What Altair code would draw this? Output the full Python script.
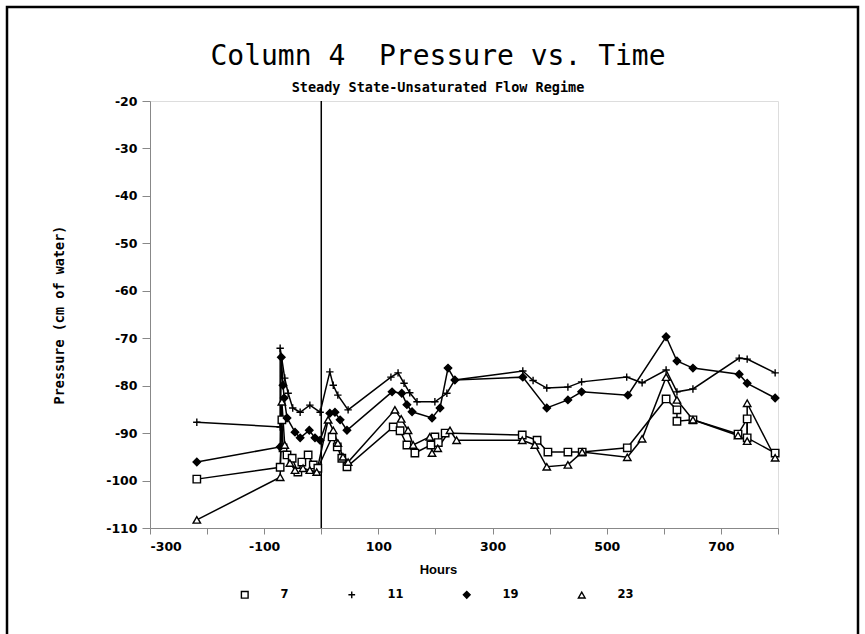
import altair as alt
import pandas as pd

# ---- data ----
x7 = [-218, -72, -69, -67, -60, -51, -41, -34, -23, -14, -6, 19, 28, 36, 45,
      126, 138, 150, 164, 192, 199, 205, 217, 352, 378, 397, 432, 457, 536,
      604, 623, 623, 651, 730, 746, 746, 795]
y7 = [-99.7, -97.2, -87.2, -93.1, -94.6, -95.3, -98.2, -96.1, -94.6, -96.7, -97.4, -90.8, -92.9, -95.3, -97.1,
      -88.7, -89.5, -92.5, -94.2, -92.5, -90.8, -92.0, -90.0, -90.4, -91.5, -94.0, -94.0, -94.0, -93.1,
      -82.8, -85.1, -87.5, -87.2, -90.2, -87.0, -91.0, -94.2]

x11 = [-218, -72, -72, -64, -58, -50, -37, -20, -2, 15, 21, 29, 47,
       122, 134.5, 145, 155, 167.7, 199, 220, 234, 353, 371, 395, 432, 456,
       535, 562, 604, 623, 651, 732, 746, 795]
y11 = [-87.7, -88.7, -72.1, -78.4, -81.6, -84.7, -85.6, -84.1, -85.6, -77.1, -79.9, -82.0, -85.1,
       -78.2, -77.3, -79.5, -81.5, -83.4, -83.4, -81.6, -78.8, -76.9, -78.9, -80.5, -80.3, -79.2,
       -78.2, -79.4, -76.7, -81.3, -80.7, -74.2, -74.4, -77.3]

x19 = [-218, -72, -70, -67, -65, -60, -46, -37, -21, -11, -2, 15, 24, 33, 45,
       124, 141, 150, 159, 194, 208, 222, 234, 353, 395, 432, 456, 537,
       604, 623, 651, 732, 746, 795]
y19 = [-96.1, -92.9, -74.0, -79.9, -82.6, -86.8, -89.8, -91.0, -89.4, -91.0, -91.5, -85.8, -85.6, -87.2, -89.4,
       -81.3, -81.6, -84.0, -85.5, -86.8, -84.7, -76.3, -78.8, -78.2, -84.7, -83.0, -81.3, -82.0,
       -69.7, -74.8, -76.3, -77.6, -79.5, -82.6]

x23 = [-218, -72, -69, -64, -55, -46, -32, -20, -8, 12, 21, 29, 38, 47,
       129, 140, 152, 161, 190, 194, 204, 225.5, 237, 352, 374, 395, 432, 457,
       536, 562, 604, 623, 651, 730, 746, 746, 795]
y23 = [-108.3, -99.3, -83.4, -92.5, -96.3, -97.8, -97.4, -97.8, -98.2, -87.2, -89.4, -92.1, -95.0, -96.1,
       -85.1, -87.0, -89.4, -92.5, -90.8, -94.2, -93.2, -89.4, -91.5, -91.5, -92.5, -97.1, -96.7, -94.0,
       -95.1, -91.2, -78.2, -83.0, -87.2, -90.5, -91.7, -83.7, -95.2]

series_names = ["7", "11", "19", "23"]
series_x = [x7, x11, x19, x23]
series_y = [y7, y11, y19, y23]

x_ticks = list(range(-300, 801, 100))
y_ticks = list(range(-110, -19, 10))

rows = []
for name, xs, ys in zip(series_names, series_x, series_y):
    for i, (xv, yv) in enumerate(zip(xs, ys)):
        rows.append({"Hours": xv, "Pressure": yv, "Series": name, "idx": i})
df = pd.DataFrame(rows)

plus_path = "M-1,0L1,0M0,-1L0,1"
shape_range = ["square", plus_path, "diamond", "triangle-up"]
fill_range = ["white", "transparent", "black", "white"]
stroke_range = ["black", "black", "black", "black"]

FONT = "DejaVu Sans"

xscale = alt.Scale(domain=[-300, 800], nice=False, zero=False)
yscale = alt.Scale(domain=[-110, -20], nice=False, zero=False)

label_style = dict(labelFont=FONT, labelFontWeight="bold", labelFontSize=12.5, labelColor="black")

xaxis = alt.Axis(values=x_ticks,
                 labelExpr="datum.value % 200 != 0 ? '' + datum.value : ''",
                 title="Hours", titleX=288, titlePadding=11, titleFontSize=13,
                 grid=False, tickSize=6, labelPadding=6, **label_style)
yaxis = alt.Axis(values=y_ticks, labelExpr="'' + datum.value",
                 title="Pressure (cm of water)", titlePadding=39,
                 titleFont="DejaVu Sans Mono", titleFontSize=13.5,
                 grid=False, tickSize=8, labelPadding=5, **label_style)

base = alt.Chart(df)

lines = base.mark_line(color="black", strokeWidth=1.5).encode(
    x=alt.X("Hours:Q", scale=xscale, axis=xaxis),
    y=alt.Y("Pressure:Q", scale=yscale, axis=yaxis),
    detail="Series:N",
    order="idx:Q",
)

points = base.mark_point(filled=False, strokeWidth=1.4, size=55, opacity=1).encode(
    x=alt.X("Hours:Q", scale=xscale),
    y=alt.Y("Pressure:Q", scale=yscale),
    shape=alt.Shape("Series:N", scale=alt.Scale(domain=series_names, range=shape_range),
                    legend=alt.Legend(title=None, orient="none", legendX=89, legendY=488,
                                      direction="horizontal", labelOffset=30, columnPadding=56,
                                      symbolSize=45, symbolStrokeWidth=1.4,
                                      labelFont=FONT, labelFontWeight="bold", labelFontSize=11.5,
                                      labelColor="black")),
    fill=alt.Fill("Series:N", scale=alt.Scale(domain=series_names, range=fill_range), legend=None),
    stroke=alt.Stroke("Series:N", scale=alt.Scale(domain=series_names, range=stroke_range), legend=None),
)

zero_df = pd.DataFrame({"Hours": [0]})
zero_rule = alt.Chart(zero_df).mark_rule(color="black", strokeWidth=1.5).encode(
    x=alt.X("Hours:Q", scale=xscale)
)

frame_df = pd.DataFrame({"k": [1]})
frame = alt.Chart(frame_df).mark_rect(filled=False, stroke="black", strokeWidth=2.5).encode(
    x=alt.value(-143), x2=alt.value(708), y=alt.value(-94), y2=alt.value(580)
)

chart = alt.layer(frame, zero_rule, lines, points).properties(
    width=628, height=427,
    padding={"left": 150, "top": 101, "right": 87, "bottom": 106},
    autosize=alt.AutoSizeParams(type="none"),
    title=alt.TitleParams(
        text="Column 4 \u00a0Pressure vs. Time",
        subtitle="Steady State-Unsaturated Flow Regime",
        anchor="middle", dx=-26, offset=-89, subtitlePadding=10,
        font="DejaVu Sans Mono", fontSize=28, fontWeight="normal", color="black",
        subtitleFont="DejaVu Sans Mono", subtitleFontSize=13.5, subtitleFontWeight="bold",
        subtitleColor="black",
    ),
).configure_view(
    stroke="black", strokeWidth=2
).configure_axis(
    domainColor="black", domainWidth=2, tickColor="black", tickWidth=1.5,
    titleFont=FONT, titleFontWeight="bold", titleFontSize=11.5, titleColor="black",
).configure(background="white")

chart.save("out.html", embed_options={"renderer": "svg", "actions": False})
